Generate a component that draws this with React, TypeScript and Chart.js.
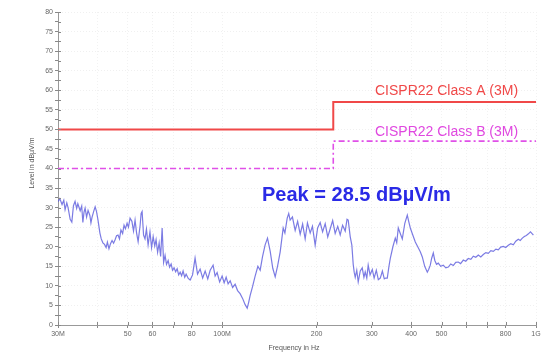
import React, { useEffect, useRef } from "react";
import { Chart, registerables } from "chart.js";

Chart.register(...registerables);

// Measured emission trace (frequency in MHz, level in dBµV/m)
const traceFreq = [
  30.0, 30.4, 30.9, 31.3, 31.6, 32.0, 32.3, 32.8, 33.2, 33.6, 34.0, 34.4, 34.7, 35.3, 35.7, 36.0, 36.3, 36.6, 37.0, 37.4,
  37.9, 38.2, 38.5, 39.0, 39.4, 39.8, 40.2, 40.8, 41.2, 41.7, 42.2, 42.7, 43.1, 43.6, 44.1, 44.6, 45.1, 45.6, 46.1, 46.6,
  47.1, 47.6, 48.2, 48.7, 49.2, 49.8, 50.3, 50.9, 51.6, 52.2, 52.8, 53.4, 54.0, 54.8, 55.2, 55.6, 56.2, 56.8, 57.4, 58.1,
  58.9, 59.6, 60.3, 61.0, 61.6, 62.3, 63.0, 63.7, 64.4, 65.1, 65.8, 66.5, 67.3, 68.0, 68.8, 69.5, 70.3, 71.1, 71.9, 72.7,
  73.5, 74.3, 75.1, 76.0, 76.8, 78.0, 79.1, 80.5, 82.0, 83.5, 85.1, 86.7, 88.3, 90.0, 91.6, 93.6, 95.0, 96.4, 98.2, 100.0,
  101.5, 103.0, 104.5, 106.1, 108.0, 110.0, 112.0, 114.1, 116.2, 118.4, 120.2, 121.5, 122.8, 125.0, 127.4, 130.0, 132.2, 134.5, 137.1, 139.5,
  142.3, 145.0, 147.6, 150.3, 153.1, 156.5, 158.5, 161.2, 163.0, 164.7, 167.5, 170.9, 174.0, 177.3, 180.5, 183.9, 187.0, 190.8, 194.0, 197.9,
  201.5, 205.3, 209.0, 213.0, 217.0, 221.0, 225.0, 229.2, 233.5, 237.8, 242.0, 246.7, 250.0, 252.2, 255.9, 259.0, 261.6, 263.5, 265.5, 268.5,
  271.4, 275.5, 279.5, 283.0, 285.7, 289.0, 292.0, 296.0, 300.9, 305.0, 309.9, 314.5, 319.1, 324.0, 328.6, 332.0, 335.9, 340.0, 343.4, 350.0,
  356.2, 360.0, 364.1, 369.0, 375.0, 382.0, 389.0, 393.0, 397.7, 405.0, 412.5, 420.0, 427.9, 434.3, 442.0, 450.5, 455.0, 460.5, 465.0, 470.8,
  476.0, 482.0, 488.4, 497.0, 506.6, 516.0, 525.6, 535.0, 545.2, 555.0, 565.6, 575.0, 586.7, 597.0, 608.6, 620.0, 631.4, 643.0, 655.0, 667.0,
  679.4, 692.0, 704.8, 718.0, 731.1, 745.0, 758.4, 772.0, 786.8, 801.0, 816.2, 831.0, 846.7, 862.0, 878.3, 891.0, 904.5, 918.0, 931.5, 946.0,
  960.0, 970.0, 981.0,
];
const traceLevel = [
  31.5, 32.3, 30.8, 31.9, 29.5, 31.2, 30.0, 27.0, 26.3, 30.5, 31.6, 29.8, 31.0, 29.2, 30.4, 26.2, 28.8, 29.9, 27.6, 29.3,
  28.0, 26.1, 27.5, 29.1, 30.2, 29.0, 27.0, 23.5, 22.0, 21.0, 20.6, 19.8, 21.2, 19.5, 20.8, 21.6, 20.9, 21.8, 22.8, 23.0,
  22.0, 24.3, 23.4, 25.5, 24.6, 26.0, 25.0, 27.3, 26.5, 24.0, 26.8, 23.5, 21.3, 25.5, 28.5, 29.0, 23.0, 22.0, 24.5, 20.5,
  23.8, 19.8, 22.6, 20.2, 21.8, 18.6, 21.0, 17.5, 24.8, 16.0, 17.8, 15.5, 16.5, 14.8, 15.6, 14.0, 14.6, 13.6, 14.4, 12.8,
  13.5, 12.6, 13.8, 12.2, 13.0, 11.9, 11.5, 12.8, 17.1, 13.0, 14.3, 12.0, 13.8, 11.8, 14.0, 15.3, 12.5, 13.4, 11.0, 12.5,
  10.8, 12.2, 10.5, 11.3, 9.6, 10.4, 8.8, 8.0, 6.8, 5.2, 4.3, 5.8, 7.5, 9.8, 12.5, 15.0, 14.0, 17.5, 20.5, 22.2,
  18.8, 14.5, 12.3, 15.2, 18.7, 24.8, 23.5, 27.3, 28.5, 26.8, 27.6, 24.2, 26.5, 23.2, 25.8, 22.0, 26.1, 23.5, 25.2, 20.4,
  24.8, 26.2, 23.8, 25.9, 22.5, 24.6, 26.7, 23.4, 25.2, 23.0, 25.5, 24.0, 27.0, 26.8, 22.6, 20.4, 15.5, 13.5, 12.2, 14.0,
  11.0, 13.8, 14.6, 12.2, 13.6, 12.0, 15.3, 12.8, 14.2, 12.0, 14.0, 11.6, 12.0, 13.8, 11.8, 12.0, 12.0, 15.0, 17.0, 20.0,
  22.2, 21.0, 24.8, 23.5, 22.0, 26.0, 28.1, 26.5, 24.8, 23.0, 21.2, 20.0, 18.7, 17.4, 15.0, 13.5, 14.2, 15.3, 17.0, 18.4,
  16.5, 15.5, 15.8, 15.0, 15.3, 14.6, 14.8, 15.6, 15.2, 16.0, 16.1, 15.7, 16.6, 16.3, 17.0, 16.8, 17.6, 17.3, 17.9, 17.4,
  18.0, 18.5, 18.3, 19.0, 18.8, 19.4, 19.2, 19.9, 20.1, 19.8, 20.4, 20.8, 20.5, 21.4, 21.9, 21.6, 22.2, 22.6, 22.9, 23.3,
  23.8, 23.4, 23.0,
];

// Limit lines
const classAFreq = [30, 226, 226, 1000];
const classALevel = [50, 50, 57, 57];
const classBFreq = [30, 226, 226, 1000];
const classBLevel = [40, 40, 47, 47];

// Axis ticks
const xTickValues = [30, 40, 50, 60, 70, 80, 100, 200, 300, 400, 500, 600, 700, 800, 1000];
const xTickLabels = ["30M", "", "50", "60", "", "80", "100M", "200", "300", "400", "500", "", "", "800", "1G"];
const yTickStep = 2.5;
const yMin = 0;
const yMax = 80;

const FONT = "'Liberation Sans', Arial, sans-serif";

const textPlugin = {
  id: "texts",
  afterDraw(chart: any) {
    const ctx = chart.ctx;
    ctx.save();
    ctx.textBaseline = "middle";
    ctx.textAlign = "left";
    ctx.font = `14px ${FONT}`;
    ctx.fillStyle = "#f04848";
    ctx.fillText("CISPR22 Class A (3M)", 375, 91);
    ctx.fillStyle = "#e048e0";
    ctx.fillText("CISPR22 Class B (3M)", 375, 132);
    ctx.font = `bold 20px ${FONT}`;
    ctx.fillStyle = "#2a2ae6";
    ctx.fillText("Peak = 28.5 dBµV/m", 262, 195);
    // axis titles
    ctx.font = `7px ${FONT}`;
    ctx.fillStyle = "#555";
    ctx.textAlign = "center";
    ctx.fillText("Frequency in Hz", 294, 348);
    ctx.translate(32, 163);
    ctx.rotate(-Math.PI / 2);
    ctx.fillText("Level in dBµV/m", 0, 0);
    ctx.restore();

    // tick marks crossing the axes
    const xs = chart.scales.x;
    const ys = chart.scales.y;
    ctx.save();
    ctx.strokeStyle = "#888";
    ctx.lineWidth = 1;
    ctx.beginPath();
    ys.ticks.forEach((t: any) => {
      const py = Math.round(ys.getPixelForValue(t.value)) + 0.5;
      ctx.moveTo(xs.left, py);
      ctx.lineTo(xs.left + 3, py);
    });
    xs.ticks.forEach((t: any) => {
      const px = Math.round(xs.getPixelForValue(t.value)) + 0.5;
      ctx.moveTo(px, ys.bottom);
      ctx.lineTo(px, ys.bottom - 3);
    });
    ctx.stroke();
    ctx.restore();
  },
};

export default function App() {
  const ref = useRef<HTMLCanvasElement | null>(null);
  useEffect(() => {
    if (!ref.current) return;
    const toPts = (xs: number[], ys: number[]) => xs.map((x, i) => ({ x, y: ys[i] }));
    const chart = new Chart(ref.current, {
      type: "line",
      data: {
        datasets: [
          {
            label: "Class A",
            data: toPts(classAFreq, classALevel),
            borderColor: "#f04848",
            borderWidth: 2,
            pointRadius: 0,
            tension: 0,
          },
          {
            label: "Class B",
            data: toPts(classBFreq, classBLevel),
            borderColor: "#e050e8",
            borderWidth: 1.6,
            borderDash: [6, 3, 2, 3],
            pointRadius: 0,
            tension: 0,
          },
          {
            label: "Peak",
            data: toPts(traceFreq, traceLevel),
            borderColor: "rgba(90,90,220,0.8)",
            borderWidth: 1.2,
            pointRadius: 0,
            tension: 0,
          },
        ],
      },
      options: {
        responsive: false,
        animation: false,
        devicePixelRatio: 1,
        layout: { padding: { left: 0, right: 8, top: 12, bottom: 0 } },
        plugins: { legend: { display: false }, tooltip: { enabled: false } },
        scales: {
          x: {
            type: "logarithmic",
            min: 30,
            max: 1000,
            afterBuildTicks: (axis: any) => {
              axis.ticks = xTickValues.map((v) => ({ value: v }));
            },
            afterFit: (scale: any) => {
              scale.height = 30;
            },
            ticks: {
              autoSkip: false,
              maxRotation: 0,
              minRotation: 0,
              color: "#666",
              font: { size: 7, family: FONT },
              padding: 2,
              callback: (value: any) => {
                const i = xTickValues.indexOf(Number(value));
                return i >= 0 ? xTickLabels[i] : "";
              },
            },
            grid: {
              color: "rgba(0,0,0,0.05)",
              tickLength: 3,
              tickColor: "#888",
            },
            border: { display: true, color: "#999", width: 1, dash: [1, 2] },
          },
          y: {
            type: "linear",
            min: yMin,
            max: yMax,
            afterFit: (scale: any) => {
              scale.width = 58;
            },
            ticks: {
              stepSize: yTickStep,
              autoSkip: false,
              color: "#666",
              font: { size: 7, family: FONT },
              padding: 2,
              callback: (value: any) => (Number(value) % 5 === 0 ? String(value) : ""),
            },
            grid: {
              color: (c: any) => (c.tick && c.tick.value % 5 === 0 ? "rgba(0,0,0,0.06)" : "rgba(0,0,0,0)"),
              tickLength: 3,
              tickColor: "#888",
            },
            border: { display: true, color: "#999", width: 1, dash: [1, 2] },
          },
        },
      },
      plugins: [textPlugin],
    } as any);
    return () => chart.destroy();
  }, []);
  return (
    <div style={{ position: "absolute", left: 0, top: 0, width: 544, height: 355, background: "#fff" }}>
      <canvas ref={ref} width={544} height={355} />
    </div>
  );
}
